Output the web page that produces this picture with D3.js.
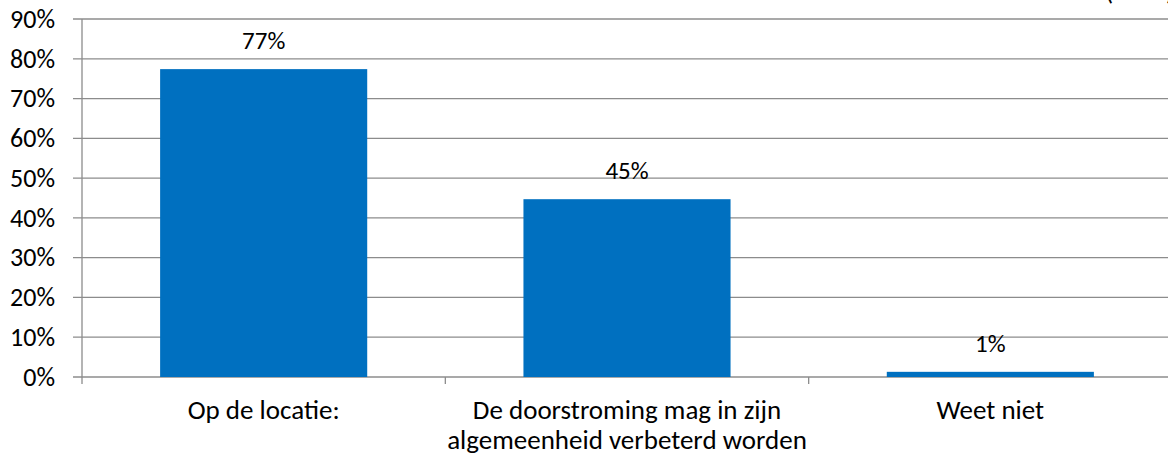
<!DOCTYPE html>
<html>
<head>
<meta charset="utf-8">
<script src="https://cdn.jsdelivr.net/npm/d3@7"></script>
<style>
  body { margin: 0; background: #fff; }
  svg { display: block; font-family: Carlito, Lato, sans-serif; }
</style>
</head>
<body>
<script>
// waarden
var categories = ["Op de locatie:", "De doorstroming mag in zijn\nalgemeenheid verbeterd worden", "Weet niet"];
var values = [77.4, 44.7, 1.3];
var valueLabels = ["77%", "45%", "1%"];
var yTicks = [0, 10, 20, 30, 40, 50, 60, 70, 80, 90];

var width = 1168, height = 457;
var mLeft = 82, mRight = 1172, mTop = 19, mBottom = 377;
var fam = "Carlito, Lato, sans-serif";

var svg = d3.select("body").append("svg")
    .attr("width", width)
    .attr("height", height);

var x = d3.scaleBand().domain(categories).range([mLeft, mRight]).padding(0);
var y = d3.scaleLinear().domain([0, 90]).range([mBottom, mTop]);

// gridlijnen
svg.append("g").selectAll("line")
    .data(yTicks)
    .enter().append("line")
    .attr("x1", mLeft - 9).attr("x2", width)
    .attr("y1", function(d) { return y(d); })
    .attr("y2", function(d) { return y(d); })
    .attr("stroke", "#8c8c8c")
    .attr("stroke-width", 1.3);

// y as
var yAxis = svg.append("g")
    .attr("transform", "translate(" + mLeft + ",0)")
    .call(d3.axisLeft(y).tickValues(yTicks).tickSize(0).tickPadding(27)
        .tickFormat(function(d) { return d + "%"; }));
yAxis.select(".domain").remove();
yAxis.selectAll("text")
    .style("font-size", "26px")
    .style("font-family", fam)
    .attr("dy", "0.32em")
    .attr("fill", "#000");

svg.append("line")
    .attr("x1", mLeft).attr("x2", mLeft)
    .attr("y1", mTop).attr("y2", mBottom + 7)
    .attr("stroke", "#8c8c8c").attr("stroke-width", 1.3);

// x as tick streepjes tussen de categorieen
svg.append("g").selectAll("line")
    .data(categories.slice(1))
    .enter().append("line")
    .attr("x1", function(d) { return x(d); })
    .attr("x2", function(d) { return x(d); })
    .attr("y1", mBottom).attr("y2", mBottom + 7)
    .attr("stroke", "#8c8c8c").attr("stroke-width", 1.3);

var bw = x.bandwidth() * 0.57;

// staven
svg.append("g").selectAll("rect")
    .data(values)
    .enter().append("rect")
    .attr("x", function(d, i) { return x(categories[i]) + (x.bandwidth() - bw) / 2; })
    .attr("y", function(d) { return y(d); })
    .attr("width", bw)
    .attr("height", function(d) { return mBottom - y(d); })
    .attr("fill", "#0070c0");

// waardelabels
svg.append("g").selectAll("text")
    .data(values)
    .enter().append("text")
    .attr("x", function(d, i) { return x(categories[i]) + x.bandwidth() / 2; })
    .attr("y", function(d) { return y(d) - 20; })
    .attr("text-anchor", "middle")
    .style("font-size", "25px")
    .text(function(d, i) { return valueLabels[i]; });

// categorie labels
var cat = svg.append("g").selectAll("text")
    .data(categories)
    .enter().append("text")
    .attr("x", function(d) { return x(d) + x.bandwidth() / 2; })
    .attr("y", mBottom + 42)
    .attr("text-anchor", "middle")
    .style("font-size", "27px");
cat.selectAll("tspan")
    .data(function(d) { return d.split("\n"); })
    .enter().append("tspan")
    .attr("x", function() { return d3.select(this.parentNode).attr("x"); })
    .attr("dy", function(d, i) { return i ? 30 : 0; })
    .text(function(d) { return d; });

// afgesneden n-label rechtsboven
svg.append("text")
    .attr("x", width + 6).attr("y", 0)
    .attr("text-anchor", "end")
    .style("font-size", "26px")
    .text("(n=80)");
</script>
</body>
</html>
